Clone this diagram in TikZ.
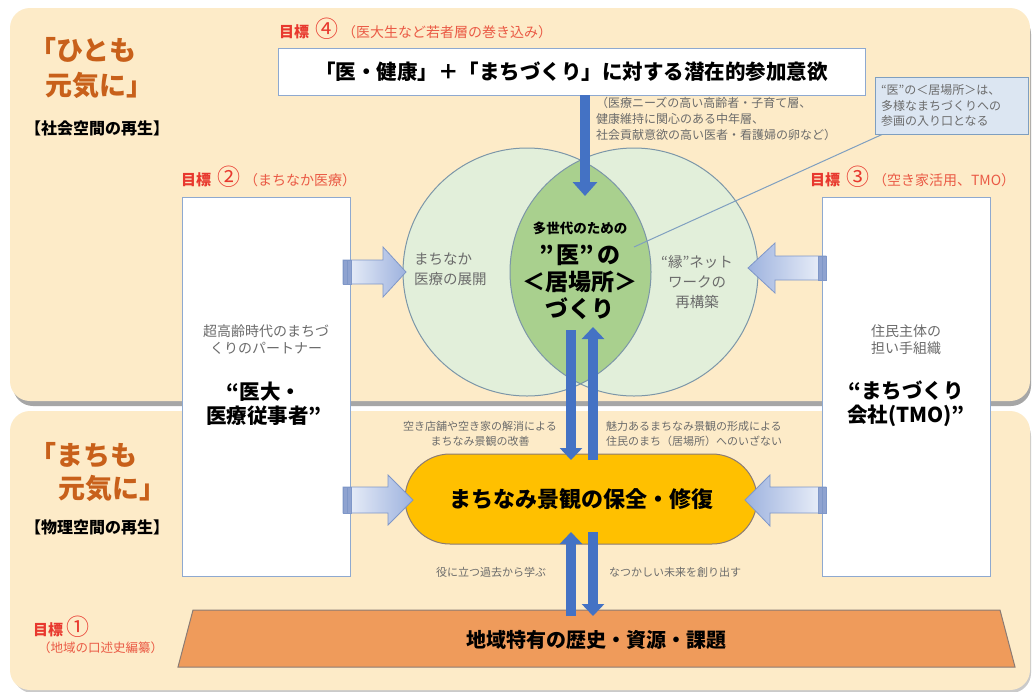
\documentclass[tikz,border=0pt]{standalone}
\usepackage{fontspec}
\setmainfont{Noto Sans CJK JP}
\usetikzlibrary{arrows.meta}
\definecolor{panel}{HTML}{FDEBC8}
\definecolor{panelshadow}{HTML}{A6A6A6}
\definecolor{titleor}{HTML}{C8601A}
\definecolor{goalred}{HTML}{E8382E}
\definecolor{goalred2}{HTML}{EA5A45}
\definecolor{graytxt}{HTML}{6B6B6B}
\definecolor{circfill}{HTML}{E2EFDA}
\definecolor{lensfill}{HTML}{A9D08E}
\definecolor{circline}{HTML}{7C96A8}
\definecolor{boxline}{HTML}{8EA9D0}
\definecolor{callfill}{HTML}{DCE6F2}
\definecolor{callline}{HTML}{7F9FC0}
\definecolor{bluearr}{HTML}{4472C4}
\definecolor{arrlight}{HTML}{EEF2FA}
\definecolor{arrdark}{HTML}{9DB2DE}
\definecolor{arrline}{HTML}{7F97C8}
\definecolor{tailbar}{HTML}{8FA3D0}
\definecolor{ovalfill}{HTML}{FFC000}
\definecolor{trapfill}{HTML}{EF9B5B}
\definecolor{trapline}{HTML}{8B7B74}
\begin{document}
\begin{tikzpicture}[x=1pt,y=-1pt,
  every node/.style={inner sep=0pt, outer sep=0pt},
  titletxt/.style={text=titleor, font=\fontsize{27}{30}\selectfont\bfseries, anchor=west},
  subtxt/.style={text=black, font=\fontsize{16}{18}\selectfont\bfseries, anchor=west},
  goaltxt/.style={anchor=west, text=goalred},
  smallgray/.style={text=graytxt, font=\fontsize{11}{15}\selectfont},
  midgray/.style={text=graytxt, font=\fontsize{14.5}{20}\selectfont},
  boldbig/.style={text=black, font=\fontsize{20.5}{24}\selectfont\bfseries},
  sidebox/.style={draw=boxline, line width=1pt, fill=white, minimum width=168pt, minimum height=379pt},
  bluearrow/.style={draw=bluearr, line width=10pt, -{Triangle[width=24pt,length=14pt]}},
  blockarr/.style={draw=arrline, line width=0.8pt},
  tailbox/.style={draw=arrline, fill=tailbar, line width=0.6pt}
]
\newcommand{\goalhead}[2]{{\fontsize{15}{18}\selectfont\bfseries 目標}\hspace{6pt}{\fontsize{23}{24}\selectfont #1}\hspace{4pt}{\color{goalred2}\fontsize{14}{18}\selectfont #2}}
\useasboundingbox (0,0) rectangle (1033,691);
\fill[white] (0,0) rectangle (1033,691);
% panels
\fill[panelshadow, rounded corners=20pt] (13,14) rectangle (1031,406);
\fill[panel, rounded corners=20pt] (10,8) rectangle (1030,401);
\fill[panelshadow!60, rounded corners=20pt] (13,416) rectangle (1031,693);
\fill[panel, rounded corners=20pt] (10,411) rectangle (1030,690);

% titles
\node[titletxt] (t1a) at (29,50) {「ひとも};
\node[titletxt] (t1b) at (45,85) {元気に」};
\node[subtxt] (s1) at (25,128) {【社会空間の再生】};
\node[titletxt] (t2a) at (29,455) {「まちも};
\node[titletxt] (t2b) at (58,488) {元気に」};
\node[subtxt] (s2) at (25,527) {【物理空間の再生】};

% goals
\node[goaltxt] (g4) at (279,29) {\goalhead{④}{（医大生など若者層の巻き込み）}};
\node[goaltxt] (g2) at (181,177) {\goalhead{②}{（まちなか医療）}};
\node[goaltxt] (g3) at (810,177) {\goalhead{③}{（空き家活用、TMO）}};
\node[goaltxt] (g1) at (33,627) {{\fontsize{15}{18}\selectfont\bfseries 目標}\hspace{3pt}{\fontsize{23}{24}\selectfont ①}};
\node[goaltxt, text=goalred2, font=\fontsize{12.5}{15}\selectfont] (g1b) at (38,648) {（地域の口述史編纂）};

% Venn circles
\coordinate (cl) at (527,272);
\coordinate (cr) at (634,272);
\fill[circfill] (cl) circle (124);
\fill[circfill] (cr) circle (124);
\begin{scope}
  \clip (cl) circle (124);
  \fill[lensfill] (cr) circle (124);
\end{scope}
\draw[circline, line width=1pt] (cl) circle (124);
\draw[circline, line width=1pt] (cr) circle (124);
\coordinate (lenstop) at (585,196);
\coordinate (lenspt) at (634,247);
\coordinate (lensbotL) at (571,330);
\coordinate (lensbotR) at (593,327);

% circle texts
\node[midgray, anchor=west, align=left] (lc) at (414,269) {まちなか\\医療の展開};
\node[midgray, align=center] (rc) at (697,282) {“縁”ネット\\ワークの\\再構築};
\node[text=black, font=\fontsize{13.5}{16}\selectfont\bfseries] (lz1) at (580,228) {多世代のための};
\node[text=black, font=\fontsize{23}{28}\selectfont\bfseries, align=center] (lz2) at (580,282) {”\hspace{3pt}医”\hspace{3pt}の\\[-1pt]＜居場所＞\\[-1pt]づくり};

% top box
\node[draw=boxline, line width=1pt, fill=white, minimum width=587pt, minimum height=47pt,
      font=\fontsize{20.5}{24}\selectfont\bfseries] (topbox) at (571.5,71.5)
      {「医・健康」＋「まちづくり」に対する潜在的参加意欲};
\draw[bluearrow] (topbox.south -| lenstop) -- (lenstop);

\node[smallgray, font=\fontsize{12}{16}\selectfont, anchor=north west, align=left] (gt) at (596,97)
  {（医療ニーズの高い高齢者・子育て層、\\健康維持に関心のある中年層、\\社会貢献意欲の高い医者・看護婦の卵など）};

% callout
\node[draw=callline, line width=1pt, fill=callfill, minimum width=153pt, minimum height=57pt,
      text=graytxt, font=\fontsize{12}{15.5}\selectfont, align=left, text width=141pt] (call) at (951.5,106)
  {“医”の＜居場所＞は、\\多様なまちづくりへの\\参画の入り口となる};
\draw[callline, line width=1pt] ([xshift=7pt]call.south west) -- (lenspt);

% side boxes
\node[sidebox] (lbox) at (266,386.5) {};
\node[sidebox] (rbox) at (906,386.5) {};
\node[midgray, font=\fontsize{14}{17}\selectfont, align=center] (lb1) at (266,340) {超高齢時代のまちづ\\くりのパートナー};
\node[boldbig, align=center] (lb2) at (264,404) {“医大・\\医療従事者”};
\node[midgray, font=\fontsize{14}{17}\selectfont, align=center] (rb1) at (906,340) {住民主体の\\担い手組織};
\node[boldbig, align=center] (rb2) at (906,404) {“まちづくり\\会社(TMO)”};

% oval
\node[draw=trapline, line width=1pt, fill=ovalfill, minimum width=352pt, minimum height=90pt,
      rounded corners=45pt, font=\fontsize{22}{26}\selectfont\bfseries] (oval) at (581,499)
  {まちなみ景観の保全・修復};

% block arrows
\path[blockarr, left color=arrlight, right color=arrdark] (343,260) -- (383,260) -- (383,247) -- (406,272) -- (383,297) -- (383,284) -- (343,284) -- cycle;
\draw[tailbox] (343,260) rectangle (351,284); \draw[arrline] (347,260) -- (347,284);
\path[blockarr, left color=arrdark, right color=arrlight] (826,256) -- (775,256) -- (775,243) -- (748,268) -- (775,293) -- (775,280) -- (826,280) -- cycle;
\draw[tailbox] (818,256) rectangle (826,280); \draw[arrline] (822,256) -- (822,280);
\path[blockarr, left color=arrlight, right color=arrdark] (343,487) -- (388,487) -- (388,475) -- (413,500) -- (388,525) -- (388,513) -- (343,513) -- cycle;
\draw[tailbox] (343,487) rectangle (351,513); \draw[arrline] (347,487) -- (347,513);
\path[blockarr, left color=arrdark, right color=arrlight] (826,487) -- (770,487) -- (770,475) -- (745,500) -- (770,526) -- (770,513) -- (826,513) -- cycle;
\draw[tailbox] (818,487) rectangle (826,513); \draw[arrline] (822,487) -- (822,513);

% trapezoid
\path[draw=trapline, line width=1pt, fill=trapfill] (193,610) -- (1000,610) -- (1015,667) -- (178,667) -- cycle;
\node[font=\fontsize{20}{24}\selectfont\bfseries] (trap) at (596,640) {地域特有の歴史・資源・課題};
\coordinate (trapL) at (571,616);
\coordinate (trapR) at (593,616);

% blue arrows between lens, oval and base
\coordinate (ovtopL) at (571,460);
\coordinate (ovtopR) at (593,460);
\coordinate (ovbotL) at (571,532);
\coordinate (ovbotR) at (593,532);
\draw[bluearrow, -{Triangle[width=22pt,length=12pt]}] (lensbotL) -- (ovtopL);
\draw[bluearrow, -{Triangle[width=22pt,length=12pt]}] (ovtopR) -- (lensbotR);
\draw[bluearrow, -{Triangle[width=22pt,length=12pt]}] (trapL) -- (ovbotL);
\draw[bluearrow, -{Triangle[width=22pt,length=12pt]}] (ovbotR) -- (trapR);

% small gray texts
\node[smallgray, align=center] (n1) at (480,434) {空き店舗や空き家の解消による\\まちなみ景観の改善};
\node[smallgray, align=left, anchor=west] (n2) at (606,434) {魅力あるまちなみ景観の形成による\\住民のまち（居場所）へのいざない};
\node[smallgray] (n3) at (491,572) {役に立つ過去から学ぶ};
\node[smallgray, anchor=west] (n4) at (609,572) {なつかしい未来を創り出す};
\end{tikzpicture}
\end{document}
